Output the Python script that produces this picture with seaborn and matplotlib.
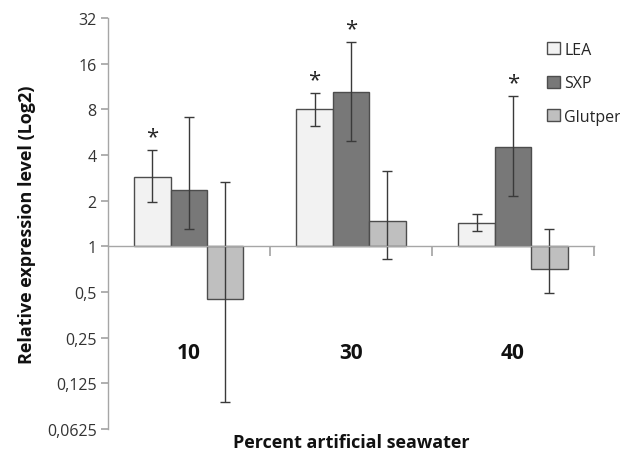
import numpy as np
import pandas as pd
import seaborn as sns
import matplotlib.pyplot as plt
from matplotlib.patches import Patch

# values (fold change, plotted on a log2 axis)
groups = ['10', '30', '40']
genes = ['LEA', 'SXP', 'Glutper']
lea = [2.86, 8.0, 1.43]
sxp = [2.36, 10.5, 4.5]
glutper = [0.45, 1.48, 0.71]
lea_err_hi = [4.34, 10.2, 1.64]
lea_err_lo = [1.96, 6.2, 1.26]
sxp_err_hi = [7.1, 22.4, 9.8]
sxp_err_lo = [1.30, 4.95, 2.15]
glutper_err_hi = [2.65, 3.13, 1.31]
glutper_err_lo = [0.094, 0.82, 0.49]
# significance stars (gene, group)
stars = [('LEA', '10'), ('LEA', '30'), ('SXP', '30'), ('SXP', '40')]
ytick_values = [0.0625, 0.125, 0.25, 0.5, 1, 2, 4, 8, 16, 32]
ytick_labels = ['0,0625', '0,125', '0,25', '0,5', '1', '2', '4', '8', '16', '32']
colors = ['#f2f2f2', '#787878', '#bfbfbf']

vals = {'LEA': lea, 'SXP': sxp, 'Glutper': glutper}
hi = {'LEA': lea_err_hi, 'SXP': sxp_err_hi, 'Glutper': glutper_err_hi}
lo = {'LEA': lea_err_lo, 'SXP': sxp_err_lo, 'Glutper': glutper_err_lo}

rows = []
for g in genes:
    for i, grp in enumerate(groups):
        rows.append({'group': grp, 'gene': g, 'log2': np.log2(vals[g][i])})
df = pd.DataFrame(rows)

sns.set_theme(style='white')
plt.rcParams['font.family'] = ['Open Sans', 'DejaVu Sans']

fig = plt.figure(figsize=(6.2, 4.56), dpi=100)
ax = fig.add_axes([0.174, 0.057, 0.784, 0.901])

sns.barplot(data=df, x='group', y='log2', hue='gene', hue_order=genes,
            palette=colors, width=0.674, edgecolor='#4d4d4d', linewidth=1,
            errorbar=None, legend=False, ax=ax)

# error bars and stars
for gene, cont in zip(genes, ax.containers):
    for i, bar in enumerate(cont):
        xc = bar.get_x() + bar.get_width() / 2
        yv = np.log2(vals[gene][i])
        yh = np.log2(hi[gene][i])
        yl = np.log2(lo[gene][i])
        ax.errorbar(xc, yv, yerr=[[yv - yl], [yh - yv]], fmt='none',
                    ecolor='#3a3a3a', elinewidth=1, capsize=3.5, capthick=1)
        if (gene, groups[i]) in stars:
            ax.annotate('*', (xc, yh), xytext=(0, 2), textcoords='offset points',
                        ha='center', va='bottom', fontsize=16, color='#222222')

# group labels inside the plot
for i, grp in enumerate(groups):
    ax.text(i, np.log2(0.2), grp, ha='center', va='center',
            fontsize=15, fontweight='bold', color='#111111')

ax.set_ylim(-4, 5)
ax.set_xlim(-0.5, 2.5)
ax.set_yticks(np.log2(ytick_values))
ax.set_yticklabels(ytick_labels)
ax.set_xticks([0.5, 1.5, 2.5])
ax.set_xticklabels([''] * 3)

for s in ['top', 'right']:
    ax.spines[s].set_visible(False)
ax.spines['bottom'].set_position(('data', 0))
for s in ['left', 'bottom']:
    ax.spines[s].set_color('#a6a6a6')
    ax.spines[s].set_linewidth(1)
ax.tick_params(axis='y', length=5, color='#a6a6a6', labelsize=11.5,
               labelcolor='#333333', left=True, pad=3)
ax.tick_params(axis='x', length=7, color='#a6a6a6', bottom=True, direction='out')

ax.set_ylabel('Relative expression level (Log2)', fontsize=13,
              fontweight='bold', color='#111111', labelpad=8)
ax.set_xlabel('')
fig.text(0.566, 0.028, 'Percent artificial seawater', ha='center', va='center',
         fontsize=13, fontweight='bold', color='#111111')

handles = [Patch(facecolor=c, edgecolor='#4d4d4d', linewidth=1) for c in colors]
ax.legend(handles, genes, loc='upper left', bbox_to_anchor=(0.89, 0.958),
          frameon=False, fontsize=11.5, handlelength=0.8, handleheight=0.8,
          handletextpad=0.3, labelspacing=1.1, borderaxespad=0)

fig.savefig('out.png', dpi=100)
